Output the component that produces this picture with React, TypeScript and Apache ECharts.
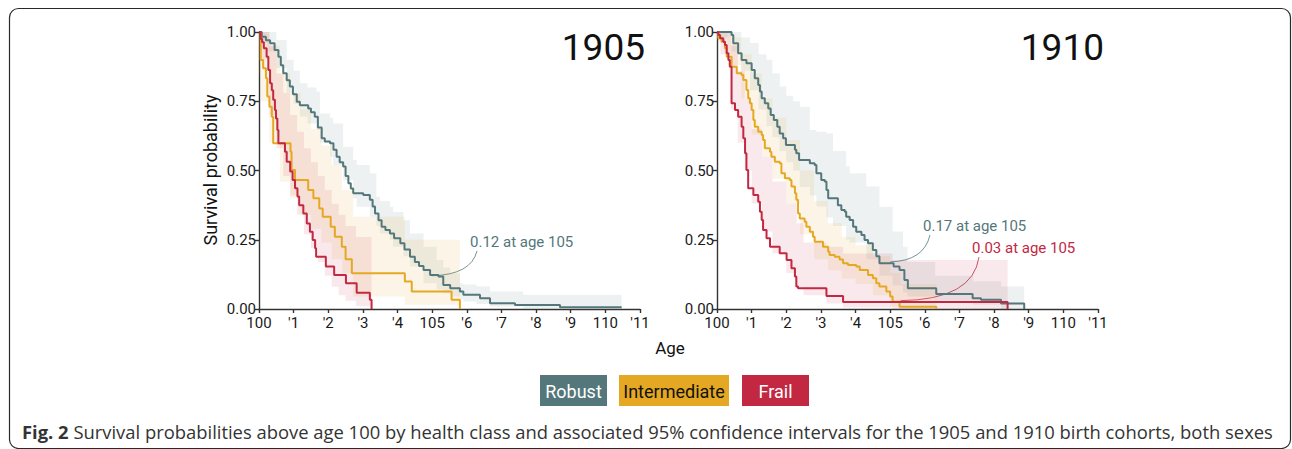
import React, { useEffect, useRef } from "react";
import * as echarts from "echarts";

// ---------- labels ----------
const xTickLabels = ["100", "'1", "'2", "'3", "'4", "105", "'6", "'7", "'8", "'9", "110", "'11"];
const yTickLabels = ["0.00", "0.25", "0.50", "0.75", "1.00"];
const classNames = ["Robust", "Intermediate", "Frail"];
const cohortTitles = ["1905", "1910"];
const classColors = ["#53777A", "#E5A823", "#C32842"];
const bandColors = ["rgba(83,119,122,0.10)", "rgba(229,168,35,0.11)", "rgba(195,40,66,0.10)"];

// ---------- 1905 cohort (years above 100) ----------
const robust1905Time = [0, 0.08, 0.2, 0.32, 0.45, 0.56, 0.63, 0.7, 0.8, 0.89, 0.98, 1.09, 1.18, 1.42, 1.5, 1.61, 1.7, 1.81, 1.9, 2.05, 2.15, 2.24, 2.33, 2.43, 2.5, 2.58, 2.65, 2.72, 3.01, 3.2, 3.28, 3.35, 3.45, 3.54, 3.65, 3.78, 3.9, 4.08, 4.2, 4.36, 4.5, 4.62, 4.75, 4.94, 5.18, 5.32, 5.52, 5.8, 5.9, 6.38, 6.67, 7.39, 8.69, 10.47];
const robust1905Surv = [1, 0.983, 0.97, 0.959, 0.935, 0.911, 0.88, 0.851, 0.826, 0.803, 0.775, 0.748, 0.736, 0.724, 0.71, 0.694, 0.655, 0.616, 0.605, 0.598, 0.575, 0.55, 0.53, 0.514, 0.48, 0.454, 0.435, 0.418, 0.412, 0.394, 0.37, 0.345, 0.32, 0.297, 0.285, 0.273, 0.255, 0.237, 0.215, 0.189, 0.17, 0.155, 0.141, 0.123, 0.117, 0.087, 0.075, 0.063, 0.051, 0.039, 0.021, 0.0144, 0.006, 0.006];
const robust1905BandTime = [0, 0.25, 0.5, 0.8, 1.0, 1.18, 1.4, 1.66, 1.76, 2.05, 2.14, 2.43, 2.72, 2.82, 3.2, 3.39, 3.49, 3.78, 3.87, 4.17, 4.36, 4.75, 5.13, 5.32, 5.52, 5.8, 5.9, 6.28, 6.67, 7.63, 10.47];
const robust1905BandHigh = [1, 1, 0.971, 0.9, 0.86, 0.815, 0.8, 0.784, 0.706, 0.69, 0.67, 0.586, 0.538, 0.52, 0.49, 0.405, 0.39, 0.369, 0.35, 0.32, 0.273, 0.225, 0.177, 0.15, 0.129, 0.093, 0.088, 0.081, 0.063, 0.051, 0.051];
const robust1905BandLow = [0.96, 0.93, 0.87, 0.78, 0.74, 0.695, 0.67, 0.646, 0.6, 0.55, 0.52, 0.465, 0.4, 0.369, 0.333, 0.3, 0.273, 0.25, 0.225, 0.19, 0.153, 0.093, 0.07, 0.057, 0.045, 0.035, 0.027, 0.018, 0.009, 0.003, 0.003];

const inter1905Time = [0, 0.05, 0.12, 0.2, 0.24, 0.3, 0.37, 0.41, 0.91, 0.94, 1.04, 1.42, 1.57, 1.74, 1.84, 2.07, 2.19, 2.39, 2.5, 2.68, 4.21, 4.41, 5.56, 5.8];
const inter1905Surv = [1, 0.899, 0.869, 0.833, 0.767, 0.73, 0.694, 0.598, 0.568, 0.502, 0.466, 0.43, 0.4, 0.363, 0.333, 0.297, 0.261, 0.225, 0.18, 0.129, 0.099, 0.063, 0.033, 0];
const inter1905BandTime = [0, 0.05, 0.3, 0.6, 0.9, 1.2, 1.5, 1.8, 2.1, 2.4, 2.72, 4.21, 5.8];
const inter1905BandHigh = [1, 1, 0.95, 0.85, 0.78, 0.72, 0.65, 0.59, 0.52, 0.43, 0.333, 0.25, 0.25];
const inter1905BandLow = [0.85, 0.75, 0.6, 0.46, 0.4, 0.34, 0.29, 0.24, 0.18, 0.13, 0.045, 0.015, 0.015];

const frail1905Time = [0, 0.05, 0.09, 0.14, 0.22, 0.27, 0.32, 0.37, 0.41, 0.46, 0.49, 0.53, 0.56, 0.75, 0.8, 0.9, 0.97, 1.04, 1.11, 1.16, 1.28, 1.38, 1.47, 1.55, 1.62, 1.65, 1.93, 2.17, 2.51, 2.82, 3.2, 3.25];
const frail1905Surv = [1, 0.975, 0.963, 0.941, 0.911, 0.863, 0.815, 0.79, 0.755, 0.718, 0.688, 0.646, 0.598, 0.568, 0.532, 0.496, 0.466, 0.436, 0.406, 0.375, 0.345, 0.309, 0.279, 0.249, 0.219, 0.189, 0.153, 0.123, 0.093, 0.059, 0.033, 0];
const frail1905BandTime = [0, 0.05, 0.3, 0.5, 0.7, 0.9, 1.1, 1.3, 1.5, 1.7, 1.9, 2.1, 2.3, 2.5, 2.8, 3.25];
const frail1905BandHigh = [1, 1, 0.95, 0.85, 0.78, 0.7, 0.64, 0.58, 0.53, 0.48, 0.43, 0.38, 0.34, 0.3, 0.26, 0.26];
const frail1905BandLow = [0.95, 0.9, 0.7, 0.58, 0.48, 0.41, 0.34, 0.27, 0.22, 0.17, 0.12, 0.08, 0.05, 0.03, 0.01, 0.01];

// ---------- 1910 cohort ----------
const robust1910Time = [0, 0.42, 0.47, 0.61, 0.71, 0.85, 1.0, 1.09, 1.19, 1.24, 1.29, 1.38, 1.48, 1.55, 1.64, 1.74, 1.81, 1.91, 1.99, 2.25, 2.29, 2.37, 2.68, 2.82, 2.87, 3.01, 3.11, 3.16, 3.21, 3.49, 3.59, 3.69, 3.73, 3.83, 3.93, 4.02, 4.17, 4.26, 4.36, 4.5, 4.6, 4.69, 5.1, 5.27, 5.41, 5.51, 6.33, 7.38, 7.62, 8.2, 8.87];
const robust1910Surv = [1, 0.989, 0.959, 0.923, 0.899, 0.887, 0.863, 0.833, 0.809, 0.785, 0.761, 0.743, 0.724, 0.7, 0.682, 0.658, 0.634, 0.616, 0.592, 0.575, 0.562, 0.538, 0.526, 0.52, 0.49, 0.466, 0.46, 0.43, 0.4, 0.375, 0.357, 0.351, 0.333, 0.321, 0.297, 0.279, 0.267, 0.249, 0.237, 0.213, 0.19, 0.165, 0.153, 0.141, 0.105, 0.075, 0.054, 0.039, 0.033, 0.02, 0];
const robust1910BandTime = [0, 0.42, 0.7, 0.95, 1.2, 1.43, 1.6, 1.81, 2.0, 2.2, 2.39, 2.68, 2.87, 3.16, 3.35, 3.73, 3.83, 4.31, 4.69, 5.07, 5.37, 5.5, 6.3, 7.4, 8.2, 8.87];
const robust1910BandHigh = [1, 1, 0.98, 0.96, 0.92, 0.9, 0.85, 0.803, 0.77, 0.75, 0.73, 0.646, 0.64, 0.634, 0.57, 0.514, 0.49, 0.442, 0.369, 0.28, 0.225, 0.17, 0.12, 0.1, 0.081, 0.081];
const robust1910BandLow = [0.98, 0.93, 0.86, 0.79, 0.72, 0.66, 0.62, 0.57, 0.53, 0.5, 0.44, 0.41, 0.37, 0.33, 0.3, 0.25, 0.24, 0.18, 0.12, 0.085, 0.06, 0.045, 0.03, 0.015, 0, 0];

const inter1910Time = [0, 0.04, 0.13, 0.23, 0.28, 0.42, 0.57, 0.71, 0.76, 0.85, 0.9, 0.95, 1.0, 1.05, 1.09, 1.19, 1.29, 1.33, 1.38, 1.53, 1.57, 1.67, 1.81, 1.86, 1.96, 2.1, 2.15, 2.25, 2.29, 2.34, 2.39, 2.53, 2.58, 2.68, 2.77, 2.82, 3.06, 3.21, 3.25, 3.4, 3.54, 3.64, 3.78, 4.02, 4.12, 4.36, 4.5, 4.6, 4.69, 4.89, 5.0, 5.07, 5.27, 6.33];
const inter1910Surv = [1, 0.977, 0.965, 0.941, 0.911, 0.875, 0.851, 0.845, 0.827, 0.791, 0.761, 0.743, 0.718, 0.682, 0.658, 0.64, 0.628, 0.61, 0.58, 0.568, 0.55, 0.532, 0.526, 0.49, 0.472, 0.466, 0.442, 0.418, 0.394, 0.345, 0.327, 0.315, 0.297, 0.279, 0.261, 0.243, 0.225, 0.207, 0.195, 0.189, 0.179, 0.165, 0.159, 0.153, 0.141, 0.123, 0.111, 0.093, 0.081, 0.063, 0.045, 0.026, 0.008, 0];
const inter1910BandTime = [0, 0.3, 0.7, 1.0, 1.3, 1.6, 2.0, 2.4, 2.8, 3.2, 3.6, 4.0, 4.5, 5.0, 5.3, 6.33];
const inter1910BandHigh = [1, 0.98, 0.92, 0.85, 0.76, 0.69, 0.61, 0.5, 0.39, 0.31, 0.26, 0.23, 0.19, 0.13, 0.09, 0.09];
const inter1910BandLow = [0.97, 0.88, 0.76, 0.63, 0.55, 0.47, 0.38, 0.27, 0.18, 0.14, 0.11, 0.09, 0.05, 0.01, 0, 0];

const frail1910Time = [0, 0.04, 0.09, 0.18, 0.23, 0.28, 0.33, 0.37, 0.42, 0.52, 0.61, 0.71, 0.76, 0.81, 0.85, 0.9, 1.05, 1.19, 1.24, 1.29, 1.33, 1.43, 1.53, 1.81, 2.01, 2.15, 2.25, 2.29, 2.34, 3.16, 3.64, 8.39];
const frail1910Surv = [1, 0.989, 0.977, 0.965, 0.953, 0.923, 0.899, 0.875, 0.743, 0.718, 0.694, 0.658, 0.616, 0.562, 0.502, 0.436, 0.412, 0.387, 0.351, 0.321, 0.285, 0.255, 0.225, 0.201, 0.177, 0.147, 0.117, 0.081, 0.075, 0.047, 0.025, 0];
const frail1910BandTime = [0, 0.1, 0.4, 0.6, 0.8, 1.0, 1.3, 1.6, 2.0, 2.3, 2.5, 3.16, 3.64, 5.07, 8.39];
const frail1910BandHigh = [1, 1, 0.95, 0.86, 0.76, 0.65, 0.55, 0.46, 0.38, 0.31, 0.24, 0.225, 0.2, 0.177, 0.177];
const frail1910BandLow = [0.97, 0.92, 0.72, 0.6, 0.5, 0.38, 0.28, 0.2, 0.13, 0.08, 0.05, 0.02, 0.005, 0, 0];

// annotations
const annotationGrid = [0, 1, 1];
const annotationAge = [5, 5, 5.3];
const annotationValue = [0.12, 0.17, 0.03];
const annotationLabel = ["0.12 at age 105", "0.17 at age 105", "0.03 at age 105"];
const annotationClass = [0, 0, 2];
const annotationTextPos = [[470, 242], [923, 226], [972, 248]];

const panels = [
  {
    lines: [[robust1905Time, robust1905Surv], [inter1905Time, inter1905Surv], [frail1905Time, frail1905Surv]],
    bands: [
      [robust1905BandTime, robust1905BandLow, robust1905BandHigh],
      [inter1905BandTime, inter1905BandLow, inter1905BandHigh],
      [frail1905BandTime, frail1905BandLow, frail1905BandHigh],
    ],
  },
  {
    lines: [[robust1910Time, robust1910Surv], [inter1910Time, inter1910Surv], [frail1910Time, frail1910Surv]],
    bands: [
      [robust1910BandTime, robust1910BandLow, robust1910BandHigh],
      [inter1910BandTime, inter1910BandLow, inter1910BandHigh],
      [frail1910BandTime, frail1910BandLow, frail1910BandHigh],
    ],
  },
];

const FONT = "Roboto, 'Noto Sans', sans-serif";

function bandRenderer(times: number[], lo: number[], hi: number[], color: string) {
  return (params: any, api: any) => {
    if (params.dataIndex !== 0) return null;
    const pts: number[][] = [];
    for (let i = 0; i < times.length - 1; i++) {
      pts.push(api.coord([times[i], hi[i]]));
      pts.push(api.coord([times[i + 1], hi[i]]));
    }
    for (let i = times.length - 2; i >= 0; i--) {
      pts.push(api.coord([times[i + 1], lo[i]]));
      pts.push(api.coord([times[i], lo[i]]));
    }
    return { type: "polygon", shape: { points: pts }, style: { fill: color }, silent: true };
  };
}

export default function App() {
  const ref = useRef<HTMLDivElement>(null);
  useEffect(() => {
    if (!ref.current) return;
    const chart = echarts.init(ref.current, undefined, { renderer: "svg" });
    const axisLineStyle = { color: "#333", width: 1.4 };
    const grids = [
      { left: 259, top: 32, width: 381, height: 277 },
      { left: 717, top: 32, width: 381, height: 277 },
    ];
    const xAxes = grids.map((_, gi) => ({
      type: "value",
      gridIndex: gi,
      min: 0,
      max: 11,
      interval: 1,
      axisLine: { show: true, lineStyle: axisLineStyle },
      axisTick: { show: true, length: 4, lineStyle: axisLineStyle },
      splitLine: { show: false },
      axisLabel: {
        formatter: (v: number) => xTickLabels[Math.round(v)] ?? "",
        fontFamily: FONT,
        fontSize: 15,
        color: "#1a1a1a",
        margin: 6,
      },
    }));
    const yAxes = grids.map((_, gi) => ({
      type: "value",
      gridIndex: gi,
      min: 0,
      max: 1,
      interval: 0.25,
      axisLine: { show: true, lineStyle: axisLineStyle },
      axisTick: { show: true, length: 4, lineStyle: axisLineStyle },
      splitLine: { show: false },
      axisLabel: {
        formatter: (v: number) => yTickLabels[Math.round(v * 4)] ?? "",
        fontFamily: FONT,
        fontSize: 15,
        color: "#1a1a1a",
        margin: 3,
      },
    }));

    const series: any[] = [];
    panels.forEach((p, gi) => {
      p.bands.forEach((b, ci) => {
        series.push({
          type: "custom",
          name: classNames[ci] + " CI " + cohortTitles[gi],
          xAxisIndex: gi,
          yAxisIndex: gi,
          z: 1,
          silent: true,
          clip: false,
          renderItem: bandRenderer(b[0], b[1], b[2], bandColors[ci]),
          data: b[0].map((t, i) => [t, b[1][i], b[2][i]]),
          encode: { x: 0, y: [1, 2] },
        });
      });
    });
    panels.forEach((p, gi) => {
      p.lines.forEach((l, ci) => {
        series.push({
          type: "line",
          name: classNames[ci] + " " + cohortTitles[gi],
          xAxisIndex: gi,
          yAxisIndex: gi,
          step: "end",
          showSymbol: false,
          symbol: "none",
          clip: false,
          z: 3,
          lineStyle: { color: classColors[ci], width: 2 },
          itemStyle: { color: classColors[ci] },
          data: l[0].map((t, i) => [t, l[1][i]]),
        });
      });
    });

    chart.setOption({
      animation: false,
      backgroundColor: "#ffffff",
      grid: grids,
      xAxis: xAxes,
      yAxis: yAxes,
      series,
    });

    const graphics: any[] = [];
    graphics.push({
      type: "rect",
      shape: { x: 9.5, y: 8.5, width: 1281, height: 440, r: 9 },
      style: { fill: "none", stroke: "#2a2a2a", lineWidth: 1.2 },
      silent: true,
    });
    const titleRight = [645, 1104];
    cohortTitles.forEach((t, i) => {
      graphics.push({
        type: "text",
        x: titleRight[i],
        y: 47,
        style: { text: t, font: `37px ${FONT}`, fill: "#111", align: "right", verticalAlign: "middle" },
      });
    });
    graphics.push({
      type: "text",
      x: 210,
      y: 170,
      rotation: Math.PI / 2,
      style: { text: "Survival probability", font: `18px ${FONT}`, fill: "#111", align: "center", verticalAlign: "middle" },
    });
    graphics.push({
      type: "text",
      x: 670,
      y: 348,
      style: { text: "Age", font: `17px ${FONT}`, fill: "#111", align: "center", verticalAlign: "middle" },
    });
    const legendBoxes = [[540, 67], [619, 110], [742, 67]];
    const legendText = ["#ffffff", "#111111", "#ffffff"];
    classNames.forEach((n, i) => {
      const [x, w] = legendBoxes[i];
      graphics.push({
        type: "rect",
        shape: { x, y: 375, width: w, height: 31 },
        style: { fill: classColors[i] },
      });
      graphics.push({
        type: "text",
        x: x + w / 2,
        y: 391,
        style: { text: n, font: `18px ${FONT}`, fill: legendText[i], align: "center", verticalAlign: "middle" },
      });
    });
    annotationLabel.forEach((lab, i) => {
      const pt = chart.convertToPixel({ gridIndex: annotationGrid[i] } as any, [annotationAge[i], annotationValue[i]]) as number[];
      const [tx, ty] = annotationTextPos[i];
      const col = classColors[annotationClass[i]];
      graphics.push({
        type: "text",
        x: tx,
        y: ty,
        style: { text: lab, font: `15px ${FONT}`, fill: col, align: "left", verticalAlign: "middle" },
      });
      const sx = tx + 7;
      const sy = ty + 9;
      graphics.push({
        type: "bezierCurve",
        shape: { x1: sx, y1: sy, cpx1: sx - 6, cpy1: pt[1] - 1, x2: pt[0], y2: pt[1] },
        style: { stroke: col, lineWidth: 0.8, fill: "none" },
        silent: true,
      });
    });
    graphics.push({
      type: "text",
      x: 22,
      y: 431,
      style: {
        text: "{b|Fig. 2} Survival probabilities above age 100 by health class and associated 95% confidence intervals for the 1905 and 1910 birth cohorts, both sexes",
        font: `18.4px 'Open Sans', sans-serif`,
        fill: "#333",
        align: "left",
        verticalAlign: "middle",
        rich: { b: { fontWeight: "bold", fontFamily: "'Open Sans', sans-serif", fontSize: 18.4, fill: "#333" } },
      },
    });

    chart.setOption({ graphic: graphics });
    return () => chart.dispose();
  }, []);
  return (
    <div
      ref={ref}
      style={{ position: "fixed", left: 0, top: 0, width: 1292, height: 449, background: "#fff" }}
    />
  );
}
